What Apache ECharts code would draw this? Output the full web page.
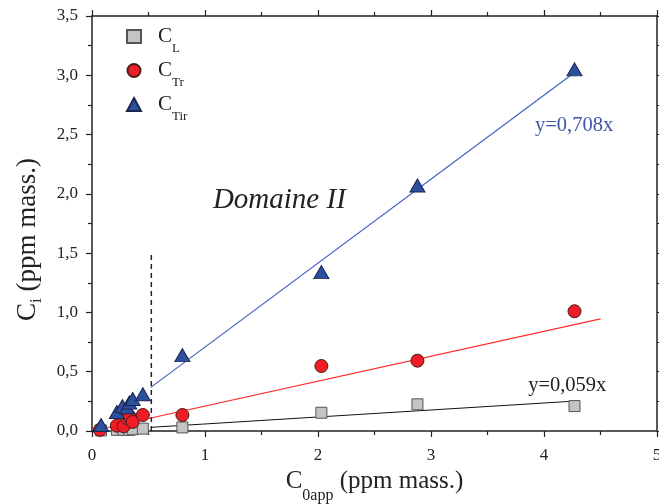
<!DOCTYPE html>
<html><head><meta charset="utf-8">
<script src="https://cdn.jsdelivr.net/npm/echarts@6/dist/echarts.min.js"></script>
<style>html,body{margin:0;padding:0;background:#fff}#c{width:659px;height:504px}</style>
</head><body><div id="c"></div>
<script>
// ---- data ----
const xTickLabels = ['0', '1', '2', '3', '4', '5'];
const yTickLabels = ['0,0', '0,5', '1,0', '1,5', '2,0', '2,5', '3,0', '3,5'];
const seriesNames = ['C_L', 'C_Tr', 'C_Tir'];
const cL = [[0.08,0.005],[0.22,0.01],[0.28,0.01],[0.33,0.01],[0.36,0.015],[0.45,0.02],[0.80,0.03],[2.03,0.154],[2.88,0.225],[4.27,0.21]];
const cTr = [[0.07,0.01],[0.22,0.045],[0.28,0.04],[0.31,0.11],[0.33,0.125],[0.36,0.076],[0.45,0.135],[0.80,0.135],[2.03,0.548],[2.88,0.593],[4.27,1.01]];
const cTir = [[0.08,0.05],[0.22,0.16],[0.27,0.21],[0.31,0.20],[0.33,0.24],[0.36,0.27],[0.45,0.31],[0.80,0.64],[2.03,1.34],[2.88,2.07],[4.27,3.05]];
const fitL = [[0.52,0.031],[4.27,0.252]];
const fitTr = [[0.12,0.025],[4.5,0.945]];
const fitTir = [[0.52,0.368],[4.27,3.023]];
const boundary = [[0.525,0],[0.525,1.5]];
const annotations = [
  {text: 'y=0,708x', x: 3.92, y: 2.56, color: '#3d56a6', size: 20.5, italic: false},
  {text: 'y=0,059x', x: 3.86, y: 0.37, color: '#222222', size: 20.5, italic: false},
  {text: 'Domaine II', x: 1.07, y: 1.93, color: '#222222', size: 29, italic: true}
];

const FF = 'Liberation Serif';
const chart = echarts.init(document.getElementById('c'));
const subMap = {'C_L': ['C','L'], 'C_Tr': ['C','Tr'], 'C_Tir': ['C','Tir']};

function axisCommon(show) {
  return {
    axisLine: {show: true, onZero: false, lineStyle: {color: '#222', width: 1.5}},
    axisTick: {show: true, inside: false, length: 6, lineStyle: {color: '#222', width: 1.2}},
    minorTick: {show: true, splitNumber: 2, length: 4, lineStyle: {color: '#222', width: 1.2}},
    splitLine: {show: false},
    axisLabel: {show: show}
  };
}

const option = {
  animation: false,
  backgroundColor: '#fff',
  grid: {left: 92, right: 2, top: 16, bottom: 73, outerBoundsMode: 'none', containLabel: false},
  legend: {
    orient: 'vertical', left: 121, top: 21, itemGap: 5,
    itemWidth: 14, itemHeight: 13,
    data: seriesNames,
    formatter: function (n) { const p = subMap[n]; return '{a|' + p[0] + '}{s|' + p[1] + '}'; },
    textStyle: {
      rich: {
        a: {fontFamily: FF, fontSize: 21, color: '#222', padding: [0, 0, 0, 12]},
        s: {fontFamily: FF, fontSize: 13, color: '#222', padding: [24, 0, 0, 0]}
      }
    }
  },
  xAxis: [
    Object.assign(axisCommon(true), {
      type: 'value', min: 0, max: 5, interval: 1, position: 'bottom',
      axisLabel: {show: true, margin: 16, fontFamily: FF, fontSize: 17, color: '#222',
        formatter: function (v) { return xTickLabels[Math.round(v)]; }},
      name: '{a|C}{s|0app}{a| (ppm mass.)}', nameLocation: 'middle', nameGap: 27,
      nameTextStyle: {rich: {
        a: {fontFamily: FF, fontSize: 25, color: '#222'},
        s: {fontFamily: FF, fontSize: 16, color: '#222', padding: [28, 0, 0, 0]}
      }}
    }),
    Object.assign(axisCommon(false), {type: 'value', min: 0, max: 5, interval: 1, position: 'top'})
  ],
  yAxis: [
    Object.assign(axisCommon(true), {
      type: 'value', min: 0, max: 3.5, interval: 0.5, position: 'left',
      axisLabel: {show: true, margin: 14, fontFamily: FF, fontSize: 17, color: '#222',
        formatter: function (v) { return yTickLabels[Math.round(v * 2)]; }},
      name: '{a|C}{s|i}{e| (ppm mass.)}', nameLocation: 'middle', nameGap: 47, nameRotate: 90,
      nameTextStyle: {rich: {
        a: {fontFamily: FF, fontSize: 27, color: '#222'},
        e: {fontFamily: FF, fontSize: 27, color: '#222', padding: [0, 32, 0, 0]},
        s: {fontFamily: FF, fontSize: 17, color: '#222', padding: [18, 0, 0, 0]}
      }}
    }),
    Object.assign(axisCommon(false), {type: 'value', min: 0, max: 3.5, interval: 0.5, position: 'right'})
  ],
  series: [
    {name: 'fitL', type: 'line', data: fitL, symbol: 'none', lineStyle: {color: '#111', width: 1}, z: 1},
    {name: 'fitTr', type: 'line', data: fitTr, symbol: 'none', lineStyle: {color: '#ff2a2a', width: 1.2}, z: 1},
    {name: 'fitTir', type: 'line', data: fitTir, symbol: 'none', lineStyle: {color: '#3f5fbf', width: 1.2}, z: 1},
    {name: 'boundary', type: 'line', data: boundary, symbol: 'none', lineStyle: {color: '#222', width: 1.5, type: [5, 4]}, z: 1},
    {name: 'C_L', type: 'scatter', data: cL, symbol: 'rect', symbolSize: 11, z: 3,
      itemStyle: {color: '#c4c4c4', borderColor: '#555', borderWidth: 1, opacity: 1}},
    {name: 'C_Tr', type: 'scatter', data: cTr, symbol: 'circle', symbolSize: 13, z: 4,
      itemStyle: {color: '#ee1c24', borderColor: '#4a1a1a', borderWidth: 1, opacity: 1}},
    {name: 'C_Tir', type: 'scatter', data: cTir, symbol: 'triangle', symbolSize: [15, 13], z: 5,
      itemStyle: {color: '#2d4f9f', borderColor: '#1a2650', borderWidth: 1, opacity: 1}}
  ]
};
chart.setOption(option);

const graphics = annotations.map(function (a) {
  const p = chart.convertToPixel({gridIndex: 0}, [a.x, a.y]);
  return {type: 'text', left: p[0], top: p[1] - a.size / 2 - 2, z: 10,
    style: {text: a.text, fill: a.color, fontFamily: FF, fontSize: a.size, fontStyle: a.italic ? 'italic' : 'normal'}};
});
chart.setOption({graphic: graphics});
</script>
</body></html>
